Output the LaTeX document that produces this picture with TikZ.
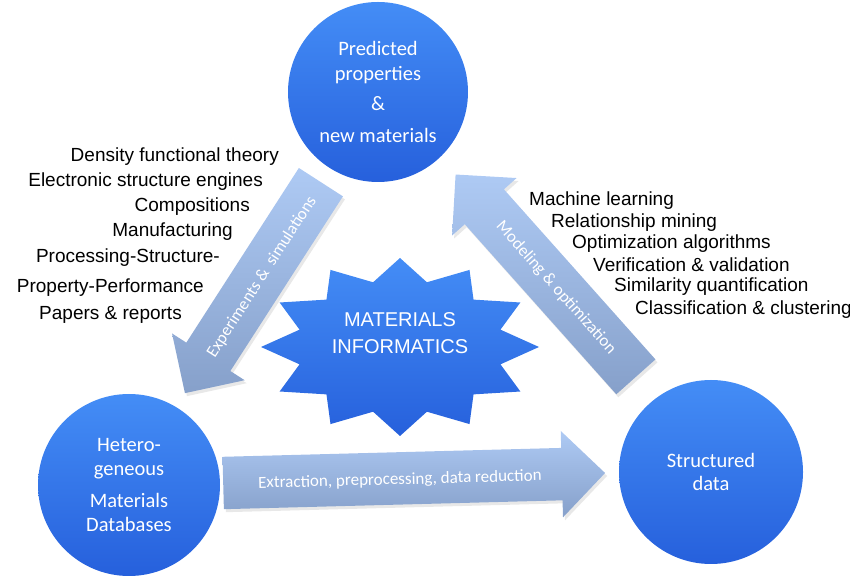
\documentclass[tikz,border=0pt]{standalone}
\usepackage{fontspec}
\setmainfont{Liberation Sans}
\newfontfamily\calibri{Carlito}
\usepackage{xcolor}
\usetikzlibrary{shapes.arrows, shadows}

\begin{document}
\begin{tikzpicture}[x=1pt, y=1pt,
  ball/.style={circle, minimum size=#1, inner sep=0pt, top color=ballhi, bottom color=balllo,
    text=white, align=center, font=\calibri\fontsize{20.5}{23.5}\selectfont},
  blockarrow/.style={single arrow, inner sep=0pt, text height=26pt, text depth=26pt,
    minimum width=0pt, single arrow head extend=17pt, top color=arrowhi, bottom color=arrowlo,
    drop shadow={opacity=0.18, shadow xshift=2pt, shadow yshift=-3pt}},
  arrowtext/.style={text=white, font=\calibri\fontsize{17}{20}\selectfont},
  listtext/.style={inner sep=0pt, text height=13.5pt, text depth=3.5pt, font=\fontsize{19}{22}\selectfont}]

% Colours of the balls and of the block arrows
\definecolor{ballhi}{RGB}{68,141,246}
\definecolor{balllo}{RGB}{38,96,220}
\definecolor{arrowhi}{RGB}{174,202,244}
\definecolor{arrowlo}{RGB}{134,160,202}

\useasboundingbox (0,0) rectangle (850,580);

% Block arrows between the three balls
\node[blockarrow, rotate=1.5, anchor=tail, minimum height=382pt] (extract) at (223,97) {};
\node[blockarrow, rotate=237.2, anchor=tail, minimum height=251pt] (expsim) at (321,398) {};
\node[blockarrow, rotate=131.7, anchor=tail, minimum height=271pt] (modopt) at (636,203) {};

% Labels along the arrows
\node[arrowtext, rotate=1.5] (extracttext) at (400,100) {Extraction, preprocessing, data reduction};
\node[arrowtext, rotate=57.2] (exptext) at (262,303) {Experiments \& \ simulations};
\node[arrowtext, rotate=-48.3] (modtext) at (556,292) {Modeling \& optimization};

% The three balls
\node[ball=180pt] (pred) at (378,488) {Predicted\\[1.5pt]properties\\[6.5pt]\&\\[8.5pt]new materials};
\node[ball=182pt] (hetero) at (129,95) {Hetero-\\geneous\\[9pt]Materials\\Databases};
\node[ball=184pt] (struct) at (711,108) {Structured\\data};

% Star in the middle, 12 points
\coordinate (starc) at (400,233);
\begin{scope}[shift={(starc)}]
\shade[top color=ballhi, bottom color=balllo] (90:139 and 89)
  \foreach \k in {0,...,11}{ -- ({105+30*\k}:104 and 67) -- ({120+30*\k}:139 and 89) } -- cycle;
\end{scope}
\node[text=white, align=center, font=\fontsize{20}{27}\selectfont] (mi) at (400,246.5) {MATERIALS\\INFORMATICS};

% Left list
\foreach \txt/\xx/\yy [count=\i] in {Density functional theory/279/423, Electronic structure engines/263/398,
    Compositions/250/373, Manufacturing/233/348, Processing-Structure-/220/322,
    Property-Performance/204/292, Papers \& reports/182/265}
  \node[listtext, anchor=east] (method\i) at (\xx,\yy) {\txt};

% Right list
\foreach \txt/\xx/\yy [count=\i] in {Machine learning/529/379, Relationship mining/551/357,
    Optimization algorithms/572/336, Verification \& validation/593/313,
    Similarity quantification/614/293, Classification \& clustering/635/270}
  \node[listtext, anchor=west] (tool\i) at (\xx,\yy) {\txt};

\end{tikzpicture}
\end{document}
